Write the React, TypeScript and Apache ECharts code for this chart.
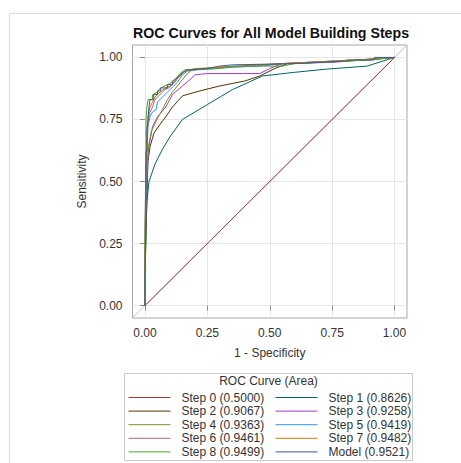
import React, { useEffect, useRef } from "react";
import * as echarts from "echarts";

const FONT = "'Liberation Sans', Arial, sans-serif";

const tickValues = [0, 0.25, 0.5, 0.75, 1.0];

const seriesNames = [
  "Step 0 (0.5000)",
  "Step 1 (0.8626)",
  "Step 2 (0.9067)",
  "Step 3 (0.9258)",
  "Step 4 (0.9363)",
  "Step 5 (0.9419)",
  "Step 6 (0.9461)",
  "Step 7 (0.9482)",
  "Step 8 (0.9499)",
  "Model (0.9521)",
];

const seriesColors = [
  "#A23A2E",
  "#01665E",
  "#543005",
  "#9D3CDB",
  "#7F8E1F",
  "#2597FA",
  "#B26084",
  "#D17800",
  "#47A82A",
  "#445694",
];

const referenceLine = [[-0.05, -0.05], [1.05, 1.05]];

const step0 = [[0, 0], [1, 1]];

const step1 = [
  [0, 0], [0, 0.08], [0.004, 0.3], [0.008, 0.42], [0.016, 0.5], [0.04, 0.57],
  [0.07, 0.63], [0.1, 0.68], [0.15, 0.75], [0.25, 0.81], [0.35, 0.87],
  [0.47, 0.925], [0.6, 0.94], [0.73, 0.953], [0.89, 0.965], [1, 1],
];

const step2 = [
  [0, 0], [0, 0.1], [0.004, 0.3], [0.008, 0.45], [0.012, 0.58], [0.02, 0.64],
  [0.036, 0.695], [0.06, 0.73], [0.083, 0.76], [0.11, 0.8], [0.15, 0.845],
  [0.22, 0.865], [0.3, 0.885], [0.4, 0.905], [0.46, 0.925], [0.52, 0.955],
  [0.57, 0.975], [0.8, 0.985], [1, 1],
];

const step3 = [
  [0, 0], [0, 0.1], [0.004, 0.35], [0.008, 0.5], [0.012, 0.6], [0.016, 0.64],
  [0.03, 0.72], [0.05, 0.76], [0.083, 0.8], [0.11, 0.85], [0.15, 0.885],
  [0.18, 0.91], [0.2, 0.93], [0.25, 0.935], [0.46, 0.935], [0.5, 0.955],
  [0.55, 0.975], [0.75, 0.98], [1, 1],
];

const step4 = [
  [0, 0], [0, 0.15], [0.004, 0.4], [0.008, 0.55], [0.014, 0.64], [0.025, 0.7],
  [0.045, 0.745], [0.07, 0.79], [0.09, 0.83], [0.11, 0.86], [0.13, 0.885],
  [0.15, 0.91], [0.17, 0.935], [0.19, 0.95], [0.3, 0.96], [0.45, 0.965],
  [0.55, 0.975], [0.8, 0.985], [1, 1],
];

const step5 = [
  [0, 0], [0, 0.2], [0.004, 0.5], [0.008, 0.62], [0.012, 0.72], [0.02, 0.76],
  [0.03, 0.78], [0.045, 0.79], [0.05, 0.82], [0.07, 0.84], [0.09, 0.86],
  [0.11, 0.88], [0.13, 0.9], [0.15, 0.93], [0.17, 0.945], [0.21, 0.95],
  [0.28, 0.955], [0.35, 0.96], [0.45, 0.965], [0.55, 0.975], [0.75, 0.985],
  [0.9, 0.99], [1, 1],
];

const step6 = [
  [0, 0], [0, 0.2], [0.004, 0.55], [0.008, 0.66], [0.012, 0.74], [0.02, 0.78],
  [0.03, 0.8], [0.04, 0.83], [0.06, 0.85], [0.08, 0.87], [0.1, 0.88],
  [0.12, 0.9], [0.14, 0.93], [0.16, 0.945], [0.2, 0.95], [0.28, 0.96],
  [0.4, 0.965], [0.55, 0.975], [0.75, 0.985], [0.9, 0.99], [1, 1],
];

const step7 = [
  [0, 0], [0, 0.25], [0.004, 0.6], [0.008, 0.7], [0.012, 0.76], [0.02, 0.8],
  [0.03, 0.82], [0.04, 0.84], [0.06, 0.86], [0.08, 0.875], [0.1, 0.885],
  [0.12, 0.905], [0.14, 0.93], [0.16, 0.945], [0.2, 0.955], [0.3, 0.96],
  [0.45, 0.97], [0.55, 0.975], [0.75, 0.985], [0.85, 0.99], [1, 1],
];

const step8 = [
  [0, 0], [0, 0.3], [0.004, 0.62], [0.004, 0.75], [0.008, 0.8], [0.012, 0.83],
  [0.03, 0.83], [0.03, 0.85], [0.05, 0.86], [0.06, 0.875], [0.08, 0.885],
  [0.1, 0.895], [0.12, 0.91], [0.14, 0.935], [0.16, 0.95], [0.3, 0.955],
  [0.35, 0.965], [0.55, 0.965], [0.6, 0.975], [0.8, 0.985], [0.9, 0.99], [1, 1],
];

const model = [
  [0, 0], [0, 0.1], [0.004, 0.35], [0.004, 0.62], [0.008, 0.62], [0.008, 0.71],
  [0.012, 0.75], [0.016, 0.8], [0.02, 0.83], [0.035, 0.83], [0.035, 0.85],
  [0.05, 0.85], [0.05, 0.865], [0.063, 0.865], [0.063, 0.877], [0.09, 0.877],
  [0.09, 0.89], [0.11, 0.89], [0.11, 0.905], [0.124, 0.913], [0.14, 0.925],
  [0.155, 0.94], [0.17, 0.95], [0.25, 0.955], [0.3, 0.965], [0.35, 0.97],
  [0.6, 0.975], [0.8, 0.985], [0.81, 0.99], [0.92, 0.99], [0.92, 1.0], [1, 1],
];

const curves = [step0, step1, step2, step3, step4, step5, step6, step7, step8, model];

const leftColumn = [0, 2, 4, 6, 8].map((i) => seriesNames[i]);
const rightColumn = [1, 3, 5, 7, 9].map((i) => seriesNames[i]);

export default function App() {
  const ref = useRef<HTMLDivElement>(null);

  useEffect(() => {
    if (!ref.current) return;
    const chart = echarts.init(ref.current, null, { renderer: "svg" });

    const axisCommon = {
      type: "value",
      min: -0.05,
      max: 1.05,
      axisLine: { show: false },
      axisTick: {
        show: true,
        length: 5,
        customValues: tickValues,
        lineStyle: { color: "#8c8c8c" },
      },
      axisLabel: {
        customValues: tickValues,
        formatter: (v: number) => v.toFixed(2),
        color: "#333",
        fontFamily: FONT,
        fontSize: 12,
      },
      splitLine: { show: true, lineStyle: { color: "#e6e6e6", width: 1 } },
      nameLocation: "middle",
      nameTextStyle: { color: "#333", fontFamily: FONT, fontSize: 12 },
    };

    const legendCommon = {
      orient: "vertical",
      itemWidth: 42,
      itemHeight: 12,
      itemGap: 1.6,
      padding: 0,
      height: 70,
      itemStyle: { opacity: 0 },
      lineStyle: { width: 1, color: "inherit" },
      textStyle: {
        fontFamily: FONT,
        fontSize: 12,
        color: "#333",
        lineHeight: 12,
        padding: [0, 0, 0, 6],
      },
      selectedMode: false,
      top: 391.5,
    };

    chart.setOption({
      animation: false,
      backgroundColor: "#fff",
      title: {
        text: "ROC Curves for All Model Building Steps",
        left: 266,
        textAlign: "center",
        top: 21,
        textStyle: { fontFamily: FONT, fontSize: 14.2, fontWeight: "bold", color: "#111" },
      },
      grid: {
        left: 132.5,
        right: 54,
        top: 45,
        bottom: 145,
        show: true,
        borderColor: "#a6a6a6",
        borderWidth: 1,
        backgroundColor: "transparent",
      },
      xAxis: {
        ...axisCommon,
        name: "1 - Specificity",
        nameGap: 29,
        axisLabel: { ...axisCommon.axisLabel, margin: 9 },
      },
      yAxis: {
        ...axisCommon,
        name: "Sensitivity",
        nameGap: 32,
        axisLabel: { ...axisCommon.axisLabel, margin: 10 },
      },
      legend: [
        { ...legendCommon, left: 128, data: leftColumn },
        { ...legendCommon, left: 275, data: rightColumn },
      ],
      graphic: [
        {
          type: "rect",
          shape: { x: 9.5, y: 13.5, width: 470, height: 470 },
          style: { fill: "none", stroke: "#dcdcdc", lineWidth: 1 },
          silent: true,
        },
        {
          type: "rect",
          shape: { x: 124.5, y: 373.5, width: 288, height: 87 },
          style: { fill: "none", stroke: "#c8c8c8", lineWidth: 1 },
          silent: true,
        },
        {
          type: "text",
          x: 268.5,
          y: 381,
          style: {
            text: "ROC Curve (Area)",
            fontFamily: FONT,
            fontSize: 12,
            fill: "#333",
            align: "center",
            verticalAlign: "middle",
          },
          silent: true,
        },
      ],
      series: [
        {
          name: "reference",
          type: "line",
          data: referenceLine,
          symbol: "none",
          silent: true,
          lineStyle: { color: "#c4c4c4", width: 1 },
          itemStyle: { color: "#c4c4c4" },
          z: 1,
        },
        ...curves.map((d, i) => ({
          name: seriesNames[i],
          type: "line",
          data: d,
          symbol: "none",
          lineStyle: { color: seriesColors[i], width: 1 },
          itemStyle: { color: seriesColors[i] },
          z: 2,
        })),
      ],
    });

    return () => chart.dispose();
  }, []);

  return (
    <div
      ref={ref}
      style={{ position: "absolute", left: 0, top: 0, width: 461, height: 463 }}
    />
  );
}
